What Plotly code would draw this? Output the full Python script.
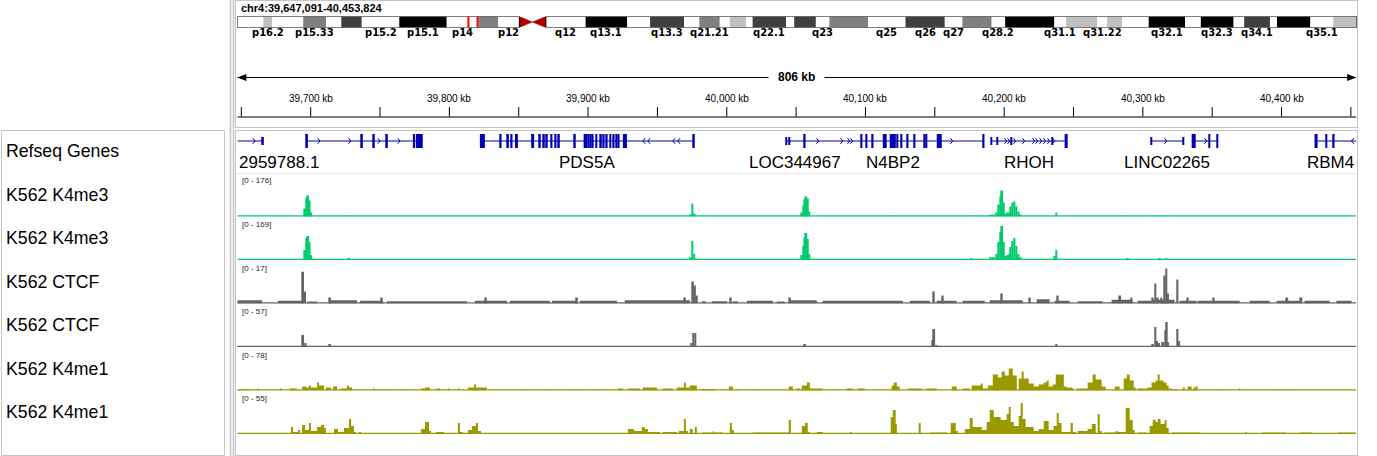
import plotly.graph_objects as go

W, H = 1377, 456
FONT = "Liberation Sans, Arial, sans-serif"

# ---------------- view / locus ----------------
CHROM = "chr4"
VIEW_START = 39647091
VIEW_END = 40453824
CHROM_LEN_MB = 191.154

# ---------------- cytobands (Mb) ----------------
band_start_mb = [0.0, 4.5, 6.0, 11.3, 15.2, 17.8, 21.3, 27.7, 35.8, 41.2, 44.6, 48.2, 50.4, 52.7,
                 59.5, 66.6, 70.5, 76.3, 78.9, 82.4, 84.1, 86.9, 88.0, 93.7, 95.1, 98.8, 101.1,
                 107.7, 114.1, 120.8, 123.8, 128.8, 131.1, 139.5, 141.5, 146.8, 148.5, 151.1,
                 155.6, 161.8, 164.5, 170.1, 171.9, 176.3, 177.5, 183.2, 187.1]
band_name = ["p16.3", "p16.2", "p16.1", "p15.33", "p15.32", "p15.31", "p15.2", "p15.1", "p14", "p13",
             "p12", "p11", "q11", "q12", "q13.1", "q13.2", "q13.3", "q21.1", "q21.21", "q21.22",
             "q21.23", "q21.3", "q22.1", "q22.2", "q22.3", "q23", "q24", "q25", "q26", "q27",
             "q28.1", "q28.2", "q28.3", "q31.1", "q31.21", "q31.22", "q31.23", "q31.3", "q32.1",
             "q32.2", "q32.3", "q33", "q34.1", "q34.2", "q34.3", "q35.1", "q35.2"]
band_stain = ["gneg", "gpos25", "gneg", "gpos50", "gneg", "gpos75", "gneg", "gpos100", "gneg", "gpos50",
              "gneg", "acen", "acen", "gneg", "gpos100", "gneg", "gpos75", "gneg", "gpos50", "gneg",
              "gpos25", "gneg", "gpos75", "gneg", "gpos75", "gneg", "gpos50", "gneg", "gpos75", "gneg",
              "gpos50", "gneg", "gpos100", "gneg", "gpos25", "gneg", "gpos25", "gneg", "gpos100",
              "gneg", "gpos100", "gneg", "gpos75", "gneg", "gpos100", "gneg", "gpos25"]
labeled_bands = ["p16.2", "p15.33", "p15.2", "p15.1", "p14", "p12", "q12", "q13.1", "q13.3", "q21.21",
                 "q22.1", "q23", "q25", "q26", "q27", "q28.2", "q31.1", "q31.22", "q32.1", "q32.3",
                 "q34.1", "q35.1"]

# ---------------- ruler ----------------
minor_tick_kb = [39650, 39700, 39750, 39800, 39850, 39900, 39950, 40000, 40050, 40100, 40150,
                 40200, 40250, 40300, 40350, 40400, 40450]
label_tick_kb = [39700, 39800, 39900, 40000, 40100, 40200, 40300, 40400]

# ---------------- RefSeq genes (kb) ----------------
intron_start_kb = [39647.1, 39697.4, 39822.0, 40043.3, 40191.0, 40306.3, 40335.2, 40423.8]
intron_end_kb = [39665.7, 39781.0, 39977.0, 40185.3, 40245.8, 40329.4, 40353.9, 40453.8]
exon_start_kb = [39696.8, 39736.4, 39745.0, 39754.4, 39773.7, 39775.8,
                 39822.0, 39836.4, 39841.5, 39844.3, 39847.3, 39859.0, 39864.7, 39867.6, 39869.7,
                 39873.1, 39876.0, 39878.4, 39889.9, 39896.8, 39899.8, 39901.4, 39903.0, 39905.6,
                 39908.5, 39910.9, 39913.1, 39915.7, 39918.1, 39920.0, 39921.7, 39925.1, 39975.7,
                 40055.8, 40096.8, 40100.4, 40104.8, 40112.5, 40117.5, 40122.6, 40125.6, 40130.0,
                 40135.0, 40142.2, 40143.8, 40151.4, 40184.6,
                 40243.6, 40335.2, 40347.6, 40353.4, 40423.8, 40432.0, 40436.8]
exon_end_kb = [39698.0, 39737.6, 39746.2, 39755.6, 39775.2, 39780.8,
               39825.6, 39837.6, 39842.9, 39845.5, 39849.4, 39861.1, 39865.9, 39868.8, 39870.9,
               39874.3, 39877.2, 39879.6, 39891.1, 39899.4, 39900.8, 39902.4, 39904.0, 39906.6,
               39909.9, 39911.9, 39914.1, 39916.7, 39919.1, 39921.0, 39922.7, 39928.0, 39976.9,
               40056.8, 40097.8, 40101.4, 40105.8, 40115.3, 40121.9, 40123.6, 40126.6, 40131.0,
               40136.0, 40143.2, 40144.6, 40155.0, 40185.8,
               40245.8, 40338.1, 40348.6, 40354.4, 40426.0, 40433.0, 40438.2]
utr_start_kb = [39665.0, 40042.8, 40044.7, 40190.6, 40194.9, 40205.0, 40234.6, 40305.9, 40329.0]
utr_end_kb = [39666.2, 40043.6, 40045.5, 40191.4, 40195.7, 40205.8, 40235.4, 40306.7, 40329.8]
strand_arrow_kb = [39659.9, 39706.7, 39728.9, 39750.0, 39764.4,
                   39939.5, 39943.1, 39961.1, 39964.7,
                   40066.3, 40083.6, 40088.7, 40090.8, 40162.9,
                   40201.8, 40204.0, 40208.3, 40214.8, 40222.0, 40224.2, 40227.1, 40229.9,
                   40232.8, 40236.4, 40317.2, 40346.0, 40450.5]
strand_arrow_dir = [1, 1, 1, 1, 1,
                    -1, -1, -1, -1,
                    1, 1, 1, 1, 1,
                    1, 1, 1, 1, 1, 1, 1, 1,
                    1, 1, 1, 1, -1]
gene_label = ["2959788.1", "PDS5A", "LOC344967", "N4BP2", "RHOH", "LINC02265", "RBM4"]
gene_label_kb = [39647.1, 39899.1, 40049.1, 40119.7, 40217.7, 40317.2, 40453.8]
gene_label_anchor = ["left", "center", "center", "center", "center", "center", "right"]

# ---------------- data tracks ----------------
track_names = ["K562 K4me3", "K562 K4me3", "K562 CTCF", "K562 CTCF", "K562 K4me1", "K562 K4me1"]
track_max = [176, 169, 17, 57, 78, 55]

# H3K4me3 (bin center kb, value)
k4me3_a_kb = [39695.9, 39697.0, 39698.1, 39699.2, 39700.2, 39727.6, 39973.7, 39975.2, 39976.6,
              40054.1, 40055.2, 40056.3, 40057.3, 40058.4, 40059.5, 40121.1, 40176.6, 40190.3,
              40192.5, 40194.6, 40196.1, 40197.3, 40198.5, 40199.7, 40201.1, 40202.6, 40204.0,
              40204.7, 40205.9, 40207.4, 40208.8, 40210.3, 40211.7, 40237.6, 40289.1, 40312.1,
              40316.9]
k4me3_a_val = [33, 78, 86, 65, 16, 4, 8, 53, 12,
               16, 45, 70, 82, 74, 20, 4, 4, 8,
               8, 16, 49, 82, 106, 57, 12, 16, 16,
               41, 57, 61, 41, 20, 8, 16, 4, 4,
               4]
k4me3_b_kb = [39695.9, 39697.0, 39698.1, 39699.2, 39700.2, 39727.6, 39973.7, 39975.2, 39976.6,
              40054.1, 40055.2, 40056.3, 40057.3, 40058.4, 40059.5, 40176.6, 40190.3,
              40192.5, 40194.6, 40196.1, 40197.3, 40198.5, 40199.7, 40201.1, 40202.6, 40204.0,
              40204.7, 40205.9, 40207.4, 40208.8, 40210.3, 40211.7, 40236.4, 40237.6, 40289.1,
              40312.1, 40316.9]
k4me3_b_val = [39, 86, 94, 71, 20, 8, 12, 75, 24,
               20, 55, 86, 106, 83, 24, 8, 12,
               12, 24, 71, 110, 134, 71, 16, 20, 24,
               51, 75, 86, 55, 24, 12, 16, 39, 4,
               8, 8]

# CTCF background (start kb, end kb, value) and peaks (center kb, value)
ctcf_a_background = [
    (39647.1, 39664.9, 1.3), (39676.4, 39693.8, 1.1), (39697.4, 39704.6, 0.8), (39713.2, 39733.4, 1.3),
    (39735.6, 39752.1, 1.1), (39755.0, 39812.7, 0.9), (39818.4, 39841.5, 1.1), (39843.7, 39872.5, 1.1),
    (39874.0, 39892.0, 1.1), (39894.1, 39920.8, 1.1), (39926.5, 39973.4, 1.3), (39982.0, 39984.9, 0.9),
    (39989.2, 40000.1, 0.9), (40004.4, 40008.0, 0.9), (40014.5, 40033.2, 1.1), (40036.1, 40041.8, 0.8),
    (40045.5, 40064.9, 1.3), (40069.2, 40126.9, 1.1), (40131.9, 40146.3, 1.1), (40151.4, 40165.8, 1.1),
    (40170.1, 40186.0, 1.1), (40189.6, 40213.4, 1.3), (40223.5, 40232.8, 1.7), (40236.4, 40247.2, 1.1),
    (40253.0, 40271.0, 0.9), (40277.5, 40292.7, 1.5), (40296.2, 40306.3, 1.1), (40307.1, 40322.9, 1.5),
    (40326.5, 40338.8, 1.1), (40339.5, 40369.8, 1.1), (40377.0, 40391.4, 1.1), (40396.4, 40413.0, 1.1),
    (40416.6, 40434.6, 1.1), (40439.6, 40450.5, 1.1)]
ctcf_a_peak_kb = [39694.5, 39695.9, 39713.9, 39751.2, 39826.3, 39891.9, 39969.8, 39975.5, 39977.0,
                  39978.4, 40002.9, 40045.5, 40149.2, 40155.7, 40198.2, 40218.4, 40238.6, 40283.6,
                  40291.7, 40307.1, 40309.0, 40310.7, 40313.3, 40315.7, 40316.9, 40318.1, 40324.9,
                  40332.3, 40351.0, 40404.1, 40414.2]
ctcf_a_peak_val = [12.6, 4.7, 2.4, 2.4, 2.4, 2.4, 2.4, 8.7, 7.1,
                   3.2, 2.4, 2.4, 4.7, 3.2, 4.0, 2.4, 3.2, 3.2,
                   2.4, 2.4, 7.9, 2.4, 2.4, 11.1, 13.8, 4.0, 9.5,
                   2.4, 2.4, 2.4, 2.4]
ctcf_b_background = [
    (39647.1, 39664.9, 1.0), (39677.9, 39693.8, 1.0), (39713.9, 39735.6, 1.0), (39742.8, 39760.8, 1.0),
    (39778.8, 39814.8, 1.0), (39822.0, 39858.1, 1.0), (39868.9, 39908.5, 1.0), (39915.7, 39973.4, 1.0),
    (39980.6, 39995.0, 1.0), (40002.2, 40023.8, 1.0), (40045.5, 40067.1, 1.0), (40074.3, 40124.7, 1.0),
    (40131.9, 40196.8, 1.0), (40204.0, 40268.9, 1.0), (40283.3, 40304.9, 1.0), (40326.5, 40384.2, 1.0),
    (40398.6, 40453.3, 1.0)]
ctcf_b_peak_kb = [39694.5, 39696.3, 39713.9, 39974.6, 39975.9, 39977.3, 40056.3, 40148.3, 40149.5,
                  40151.2, 40237.6, 40307.1, 40309.0, 40310.2, 40311.6, 40314.5, 40316.2, 40317.2,
                  40318.1, 40324.9, 40326.1]
ctcf_b_peak_val = [16, 5.3, 4, 5.3, 18.6, 18.6, 4, 9.3, 24,
                   2.7, 4, 4, 26.5, 8, 5.3, 6.6, 22.5, 33,
                   6.6, 24, 8]

# H3K4me1 (start kb, end kb, value)
k4me1_a_segments = [
    (39647.1, 39656.3, 1.8), (39661.3, 39662.3, 3.6), (39677.9, 39679.3, 3.6), (39685.1, 39690.1, 3.6),
    (39693.8, 39695.9, 7.3), (39696.6, 39698.8, 5.4), (39698.8, 39700.2, 9.1), (39700.2, 39704.6, 5.4),
    (39704.6, 39706.0, 14.5), (39706.0, 39709.6, 9.1), (39711.0, 39714.6, 5.4), (39716.1, 39719.0, 7.3),
    (39721.9, 39725.4, 3.6), (39726.2, 39727.6, 9.1), (39727.6, 39729.8, 5.4), (39744.9, 39745.9, 3.6),
    (39752.4, 39753.4, 1.8), (39764.4, 39765.4, 1.8), (39779.5, 39781.7, 3.6), (39782.4, 39786.0, 5.4),
    (39791.0, 39793.2, 3.6), (39799.0, 39800.0, 3.6), (39806.2, 39807.2, 3.6), (39813.4, 39817.0, 5.4),
    (39817.7, 39819.2, 10.9), (39819.2, 39827.1, 5.4), (39854.5, 39855.5, 1.8), (39872.5, 39873.5, 1.8),
    (39889.0, 39890.0, 1.8), (39896.3, 39897.3, 1.8), (39904.9, 39905.9, 1.8), (39913.6, 39914.6, 1.8),
    (39921.5, 39925.1, 3.6), (39928.7, 39937.3, 3.6), (39939.5, 39949.6, 5.4), (39953.9, 39961.1, 3.6),
    (39964.0, 39969.1, 5.4), (39969.1, 39970.5, 14.5), (39970.5, 39973.4, 5.4), (39973.4, 39978.4, 9.1),
    (39982.0, 39991.4, 2.7), (40001.5, 40004.4, 7.3), (40007.3, 40009.4, 1.8), (40020.0, 40021.0, 1.8),
    (40044.7, 40047.6, 7.3), (40050.5, 40052.7, 3.6), (40054.1, 40057.0, 9.1), (40057.7, 40059.2, 14.5),
    (40059.9, 40069.2, 3.6), (40077.9, 40078.9, 1.8), (40086.5, 40090.9, 3.6), (40094.5, 40099.5, 3.6),
    (40118.9, 40120.4, 9.1), (40120.4, 40121.8, 14.5), (40122.6, 40124.7, 7.3), (40130.5, 40140.6, 3.6),
    (40144.2, 40151.4, 3.6), (40162.2, 40165.8, 7.3), (40170.1, 40175.2, 3.6), (40176.6, 40182.4, 9.1),
    (40183.1, 40184.6, 12.7), (40184.6, 40188.2, 3.6), (40188.2, 40191.0, 9.1), (40191.8, 40194.6, 29.0),
    (40195.4, 40198.2, 23.6), (40198.2, 40199.7, 34.5), (40200.4, 40202.6, 27.2), (40203.3, 40205.4, 39.9),
    (40206.2, 40209.1, 27.2), (40210.5, 40211.9, 21.8), (40212.7, 40214.1, 34.5), (40214.1, 40217.0, 21.8),
    (40217.7, 40220.6, 12.7), (40221.3, 40224.2, 7.3), (40224.9, 40227.8, 10.9), (40228.5, 40230.0, 14.5),
    (40230.7, 40232.1, 18.1), (40232.1, 40234.3, 7.3), (40235.0, 40237.2, 10.9), (40237.2, 40240.8, 29.0),
    (40241.4, 40243.0, 29.0), (40243.0, 40244.4, 7.3), (40245.1, 40249.5, 5.4), (40252.3, 40259.5, 3.6),
    (40260.2, 40263.2, 14.5), (40263.8, 40265.3, 29.0), (40266.0, 40270.3, 20.0), (40270.3, 40273.2, 7.3),
    (40279.7, 40283.3, 7.3), (40286.2, 40288.4, 21.8), (40288.4, 40289.8, 29.0), (40290.5, 40293.4, 18.1),
    (40293.4, 40294.8, 5.4), (40296.2, 40302.7, 3.6), (40303.4, 40306.3, 5.4), (40306.3, 40309.2, 14.5),
    (40309.2, 40310.7, 18.1), (40310.7, 40312.1, 29.0), (40312.1, 40315.0, 18.1), (40315.0, 40317.1, 14.5),
    (40317.1, 40318.6, 9.1), (40318.6, 40320.0, 3.6), (40320.8, 40325.1, 1.8), (40328.7, 40330.2, 5.4),
    (40332.3, 40335.2, 7.3), (40336.6, 40338.1, 5.4), (40338.1, 40339.5, 7.3), (40353.6, 40354.6, 1.8),
    (40369.3, 40370.3, 3.6), (40393.1, 40394.1, 1.8), (40403.9, 40404.9, 1.8)]
k4me1_b_segments = [
    (39647.1, 39670.7, 1.3), (39675.7, 39685.1, 1.3), (39685.8, 39687.3, 9.0), (39687.3, 39690.1, 2.6),
    (39690.9, 39692.3, 5.1), (39693.8, 39695.2, 11.5), (39695.9, 39698.1, 5.1), (39698.8, 39700.2, 14.1),
    (39700.2, 39703.9, 3.8), (39704.6, 39706.7, 9.0), (39707.4, 39709.6, 11.5), (39709.6, 39711.0, 7.7),
    (39711.0, 39716.1, 1.3), (39716.8, 39719.7, 6.4), (39719.7, 39723.3, 2.6), (39724.0, 39726.9, 7.7),
    (39727.6, 39729.1, 19.2), (39729.1, 39731.2, 10.2), (39731.2, 39732.6, 2.6), (39734.8, 39736.3, 2.6),
    (39754.3, 39755.3, 1.3), (39779.5, 39781.7, 6.4), (39782.4, 39785.3, 15.3), (39785.3, 39786.7, 3.8),
    (39790.3, 39796.1, 2.6), (39797.5, 39801.1, 1.3), (39806.2, 39807.6, 14.1), (39807.6, 39809.8, 2.6),
    (39813.4, 39816.3, 5.1), (39816.3, 39819.2, 10.2), (39819.2, 39820.6, 14.1), (39820.6, 39822.8, 3.8),
    (39854.5, 39855.5, 1.3), (39865.3, 39866.3, 1.3), (39901.3, 39902.3, 1.3), (39908.5, 39917.9, 1.3),
    (39928.7, 39933.0, 6.4), (39933.0, 39938.0, 3.8), (39938.8, 39940.9, 9.0), (39940.9, 39943.1, 6.4),
    (39943.1, 39951.8, 2.6), (39953.9, 39964.0, 2.6), (39965.4, 39968.3, 3.8), (39969.1, 39970.5, 19.2),
    (39970.5, 39971.9, 3.8), (39973.4, 39975.5, 6.4), (39977.0, 39978.4, 9.0), (39982.7, 39989.9, 1.9),
    (39989.9, 39990.6, 3.8), (39990.6, 39997.2, 1.9), (40002.2, 40003.7, 14.1), (40003.7, 40005.1, 5.1),
    (40018.8, 40044.0, 1.9),
    (40044.7, 40046.2, 17.9), (40054.1, 40055.5, 10.2), (40056.3, 40058.4, 14.1), (40058.4, 40059.9, 2.6),
    (40064.9, 40069.2, 2.6), (40089.0, 40090.0, 2.6), (40095.9, 40117.5, 1.3), (40118.2, 40119.7, 21.7),
    (40119.7, 40121.8, 30.7), (40121.8, 40122.6, 12.8), (40131.9, 40137.0, 1.3), (40138.4, 40139.8, 14.1),
    (40146.3, 40158.6, 1.9), (40161.5, 40165.1, 14.1), (40165.1, 40166.6, 3.8), (40171.6, 40174.5, 6.4),
    (40175.2, 40177.3, 20.5), (40177.3, 40183.8, 9.0), (40183.8, 40187.4, 5.1), (40187.4, 40189.6, 15.3),
    (40189.6, 40192.5, 30.7), (40192.5, 40197.5, 21.7), (40197.5, 40201.8, 17.9), (40201.8, 40203.3, 25.6),
    (40203.3, 40204.7, 34.5), (40204.7, 40206.9, 15.3), (40206.9, 40210.5, 10.2), (40210.5, 40211.9, 23.0),
    (40211.9, 40213.4, 39.7), (40213.4, 40215.5, 19.2), (40215.5, 40221.3, 9.0), (40221.3, 40224.2, 3.8),
    (40224.9, 40228.5, 6.4), (40228.5, 40232.1, 16.6), (40232.1, 40235.0, 5.1), (40235.7, 40237.9, 10.2),
    (40237.9, 40239.3, 26.9), (40239.3, 40241.4, 14.1), (40241.4, 40247.2, 2.6), (40247.9, 40249.5, 14.1),
    (40249.5, 40251.6, 2.6), (40253.0, 40260.2, 3.8), (40260.2, 40263.2, 6.4), (40263.2, 40266.0, 12.8),
    (40267.4, 40268.9, 25.6), (40268.9, 40270.3, 3.8), (40272.5, 40279.7, 1.9), (40280.4, 40281.1, 3.8),
    (40281.9, 40286.9, 2.6), (40287.6, 40290.5, 33.3), (40290.5, 40292.7, 17.9), (40292.7, 40294.1, 5.1),
    (40296.2, 40302.7, 1.9), (40304.9, 40307.1, 10.2), (40307.1, 40308.5, 17.9), (40309.2, 40310.7, 15.3),
    (40310.7, 40312.8, 19.2), (40312.8, 40315.0, 12.8), (40315.7, 40317.1, 17.9), (40317.1, 40318.6, 7.7),
    (40320.8, 40340.9, 1.9), (40352.5, 40357.5, 1.3), (40374.0, 40375.0, 2.6), (40386.3, 40403.4, 1.9),
    (40413.0, 40422.4, 1.9), (40440.4, 40453.3, 1.9)]

# ---------------- styling ----------------
GREEN = "rgb(0,204,110)"
GRAY = "rgb(100,100,100)"
OLIVE = "rgb(153,153,0)"
BLUE = "rgb(0,0,178)"
BORDER = "rgb(196,196,196)"
track_colors = [GREEN, GREEN, GRAY, GRAY, OLIVE, OLIVE]
STAIN_COLOR = {"gneg": "white", "gpos25": "rgb(192,192,192)", "gpos50": "rgb(128,128,128)",
               "gpos75": "rgb(64,64,64)", "gpos100": "black"}

DATA_X0, DATA_X1 = 237.3, 1356.2         # pixel extent of the genomic axis
IDEO_X0, IDEO_X1 = 237.0, 1357.0
track_base_px = [216.5, 260.0, 303.5, 347.0, 390.5, 434.0]
TRACK_H = 43.0
name_y_px = [151, 194.5, 238, 281.5, 325, 368.5, 411.5]
GAP_MERGE_KB = 1.0   # step-fill: gaps narrower than this are drawn closed


def fx(p):
    return p / W


def fy(p):
    return 1 - p / H


fig = go.Figure()
layout = dict(
    width=W, height=H, margin=dict(l=0, r=0, t=0, b=0, pad=0), autosize=False,
    paper_bgcolor="white", plot_bgcolor="white", showlegend=False, hovermode=False,
    barmode="overlay", font=dict(family=FONT, color="black"),
)
layout["xaxis"] = dict(domain=[fx(DATA_X0), fx(DATA_X1)], range=[VIEW_START, VIEW_END],
                       visible=False, fixedrange=True, anchor="y")
layout["xaxis2"] = dict(domain=[fx(IDEO_X0), fx(IDEO_X1)], range=[0, CHROM_LEN_MB],
                        visible=False, fixedrange=True, anchor="y8")

# track y axes (y .. y6)
for i, b in enumerate(track_base_px):
    key = "yaxis" if i == 0 else f"yaxis{i + 1}"
    layout[key] = dict(domain=[fy(b), fy(b - TRACK_H)], range=[0, track_max[i]],
                       visible=False, fixedrange=True, anchor="x")
# gene track axis (y7): 0 at pixel 141
layout["yaxis7"] = dict(domain=[fy(155), fy(127)], range=[-14, 14], visible=False,
                        fixedrange=True, anchor="x")
# ideogram axis (y8)
layout["yaxis8"] = dict(domain=[fy(27.5), fy(16.5)], range=[0, 1], visible=False,
                        fixedrange=True, anchor="x2")

shapes = []
annotations = []

# ---------- panels / borders ----------
shapes.append(dict(type="rect", xref="paper", yref="paper", x0=fx(235.5), x1=fx(1357.5),
                   y0=fy(127.5), y1=fy(0.5), line=dict(color=BORDER, width=1)))
shapes.append(dict(type="rect", xref="paper", yref="paper", x0=fx(235.5), x1=fx(1357.5),
                   y0=fy(455.5), y1=fy(130.5), line=dict(color=BORDER, width=1)))
shapes.append(dict(type="rect", xref="paper", yref="paper", x0=fx(1.5), x1=fx(224.5),
                   y0=fy(455.5), y1=fy(130.5), line=dict(color=BORDER, width=1)))
for xv in (230.5, 233.5):
    shapes.append(dict(type="line", xref="paper", yref="paper", x0=fx(xv), x1=fx(xv),
                       y0=0, y1=1, line=dict(color=BORDER, width=1.5)))
shapes.append(dict(type="line", xref="paper", yref="paper", x0=fx(236), x1=fx(1356.5),
                   y0=fy(173.5), y1=fy(173.5), line=dict(color="rgb(232,232,232)", width=1)))

# ---------- ideogram ----------
bx, bw, bc = [], [], []
acen = []
for i, s in enumerate(band_start_mb):
    e = band_start_mb[i + 1] if i + 1 < len(band_start_mb) else CHROM_LEN_MB
    if band_stain[i] == "acen":
        acen.append((s, e, band_name[i]))
        continue
    bx.append((s + e) / 2)
    bw.append(e - s)
    bc.append(STAIN_COLOR[band_stain[i]])
fig.add_trace(go.Bar(x=bx, y=[1] * len(bx), base=0, width=bw, xaxis="x2", yaxis="y8",
                     marker=dict(color=bc, line=dict(width=0))))
cen_color = "rgb(175,0,0)"
p_end = acen[0][0]
q_start = acen[-1][1]
for s, e, nm in acen:
    if nm.startswith("p"):
        tx, ty = [s, s, e, s], [0, 1, 0.5, 0]
    else:
        tx, ty = [e, e, s, e], [0, 1, 0.5, 0]
    fig.add_trace(go.Scatter(x=tx, y=ty, xaxis="x2", yaxis="y8", mode="lines", fill="toself",
                             fillcolor=cen_color, line=dict(color=cen_color, width=0.5)))
shapes.append(dict(type="rect", xref="x2", yref="y8", x0=0, x1=p_end, y0=0, y1=1,
                   line=dict(color="black", width=1)))
shapes.append(dict(type="rect", xref="x2", yref="y8", x0=q_start, x1=CHROM_LEN_MB, y0=0, y1=1,
                   line=dict(color="black", width=1)))
# current-view marker
BOX_PAD_L, BOX_MIN_W = 0.15, 1.55
vs_mb = VIEW_START / 1e6
shapes.append(dict(type="rect", xref="x2", yref="y8", x0=vs_mb - BOX_PAD_L,
                   x1=max(VIEW_END / 1e6, vs_mb - BOX_PAD_L + BOX_MIN_W), y0=-0.15, y1=1.15,
                   line=dict(color="rgb(255,0,0)", width=2)))
for i, nm in enumerate(band_name):
    if nm in labeled_bands:
        s = band_start_mb[i]
        e = band_start_mb[i + 1] if i + 1 < len(band_start_mb) else CHROM_LEN_MB
        annotations.append(dict(x=(s + e) / 2, y=fy(32.5), xref="x2", yref="paper", text=nm,
                                showarrow=False, xanchor="center", yanchor="middle",
                                font=dict(size=10, family="DejaVu Sans", color="black", weight="bold")))

# ---------- locus title + ruler ----------
annotations.append(dict(x=fx(239), y=fy(8), xref="paper", yref="paper",
                        text=f"<b>{CHROM}:{VIEW_START:,}-{VIEW_END:,}</b>", showarrow=False,
                        xanchor="left", yanchor="middle", font=dict(size=11, color="black")))
RULER_Y = 77.5
shapes.append(dict(type="line", xref="x", yref="paper", x0=VIEW_START, x1=VIEW_END,
                   y0=fy(RULER_Y), y1=fy(RULER_Y), line=dict(color="black", width=1)))
AH_W, AH_H = 6500, 3.5
shapes.append(dict(type="path", xref="x", yref="paper", fillcolor="black", line=dict(width=0),
                   path=f"M {VIEW_START},{fy(RULER_Y)} L {VIEW_START + AH_W},{fy(RULER_Y - AH_H)} "
                        f"L {VIEW_START + AH_W},{fy(RULER_Y + AH_H)} Z"))
shapes.append(dict(type="path", xref="x", yref="paper", fillcolor="black", line=dict(width=0),
                   path=f"M {VIEW_END},{fy(RULER_Y)} L {VIEW_END - AH_W},{fy(RULER_Y - AH_H)} "
                        f"L {VIEW_END - AH_W},{fy(RULER_Y + AH_H)} Z"))
span_kb = int((VIEW_END - VIEW_START) / 1000)
annotations.append(dict(x=(VIEW_START + VIEW_END) / 2, y=fy(RULER_Y), xref="x", yref="paper",
                        text=f"<b>{span_kb} kb</b>", showarrow=False, bgcolor="white", borderpad=9,
                        xanchor="center", yanchor="middle", font=dict(size=12, color="black")))
for kb in minor_tick_kb:
    shapes.append(dict(type="line", xref="x", yref="paper", x0=kb * 1000, x1=kb * 1000,
                       y0=fy(116.5), y1=fy(107), line=dict(color="black", width=1)))
for kb in label_tick_kb:
    annotations.append(dict(x=kb * 1000, y=fy(98.5), xref="x", yref="paper", text=f"{kb:,} kb",
                            showarrow=False, xanchor="center", yanchor="middle",
                            font=dict(size=10, color="black")))
shapes.append(dict(type="line", xref="x", yref="paper", x0=VIEW_START, x1=VIEW_END,
                   y0=fy(117), y1=fy(117), line=dict(color="black", width=1)))

# ---------- gene track ----------
lx, ly = [], []
for s, e in zip(intron_start_kb, intron_end_kb):
    lx += [s * 1000, e * 1000, None]
    ly += [0, 0, None]
fig.add_trace(go.Scatter(x=lx, y=ly, xaxis="x", yaxis="y7", mode="lines",
                         line=dict(color=BLUE, width=1)))
ARROW_DX, ARROW_DY = 1600, 2.8
ax_, ay_ = [], []
for a, d in zip(strand_arrow_kb, strand_arrow_dir):
    c = a * 1000
    ax_ += [c - d * ARROW_DX, c, c - d * ARROW_DX, None]
    ay_ += [ARROW_DY, 0, -ARROW_DY, None]
fig.add_trace(go.Scatter(x=ax_, y=ay_, xaxis="x", yaxis="y7", mode="lines",
                         line=dict(color=BLUE, width=1)))
fig.add_trace(go.Bar(x=[(s + e) / 2 * 1000 for s, e in zip(exon_start_kb, exon_end_kb)],
                     width=[(e - s) * 1000 for s, e in zip(exon_start_kb, exon_end_kb)],
                     y=[14] * len(exon_start_kb), base=-7, xaxis="x", yaxis="y7",
                     marker=dict(color=BLUE, line=dict(width=0))))
fig.add_trace(go.Bar(x=[(s + e) / 2 * 1000 for s, e in zip(utr_start_kb, utr_end_kb)],
                     width=[(e - s) * 1000 for s, e in zip(utr_start_kb, utr_end_kb)],
                     y=[8] * len(utr_start_kb), base=-4, xaxis="x", yaxis="y7",
                     marker=dict(color=BLUE, line=dict(width=0))))
for nm, kb, anc in zip(gene_label, gene_label_kb, gene_label_anchor):
    annotations.append(dict(x=kb * 1000, y=fy(163), xref="x", yref="paper", text=nm,
                            showarrow=False, xanchor=anc, yanchor="middle",
                            font=dict(size=17, color="black")))

# ---------- signal tracks ----------
PEAK_W = 1400


def add_points(kb_list, vals, color, yax):
    fig.add_trace(go.Bar(x=[k * 1000 for k in kb_list], y=vals, width=[PEAK_W] * len(vals),
                         base=0, xaxis="x", yaxis=yax, marker=dict(color=color, line=dict(width=0))))


def add_segments(segs, color, yax):
    fig.add_trace(go.Bar(x=[(s + e) / 2 * 1000 for s, e, v in segs],
                         width=[(e - s) * 1000 for s, e, v in segs],
                         y=[v for s, e, v in segs], base=0, xaxis="x", yaxis=yax,
                         marker=dict(color=color, line=dict(width=0))))


def add_step_fill(segs, color, yax):
    xs, ys = [segs[0][0] * 1000], [0]
    for i, (s, e, v) in enumerate(segs):
        xs.append(s * 1000)
        ys.append(v)
        nxt = segs[i + 1][0] if i + 1 < len(segs) else None
        if nxt is None or nxt - e > GAP_MERGE_KB:
            xs.append(e * 1000)
            ys.append(0)
    fig.add_trace(go.Scatter(x=xs, y=ys, xaxis="x", yaxis=yax, mode="lines",
                             line=dict(shape="hv", width=0, color=color),
                             fill="tozeroy", fillcolor=color))


add_points(k4me3_a_kb, k4me3_a_val, GREEN, "y")
add_points(k4me3_b_kb, k4me3_b_val, GREEN, "y2")
add_segments(ctcf_a_background, GRAY, "y3")
add_points(ctcf_a_peak_kb, ctcf_a_peak_val, GRAY, "y3")
add_segments(ctcf_b_background, GRAY, "y4")
add_points(ctcf_b_peak_kb, ctcf_b_peak_val, GRAY, "y4")
add_step_fill(k4me1_a_segments, OLIVE, "y5")
add_step_fill(k4me1_b_segments, OLIVE, "y6")

for i, b in enumerate(track_base_px):
    # baseline drawn just inside the track bottom so it is not clipped
    shapes.append(dict(type="line", xref="x", yref="paper", x0=VIEW_START, x1=VIEW_END,
                       y0=fy(b - 0.6), y1=fy(b - 0.6),
                       line=dict(color=track_colors[i], width=1.3)))
    annotations.append(dict(x=fx(240), y=fy(b - TRACK_H + 7.5), xref="paper", yref="paper",
                            text=f"[0 - {track_max[i]}]", showarrow=False, xanchor="left",
                            yanchor="middle", font=dict(size=8, color="rgb(30,30,30)")))

# ---------- track names ----------
for nm, yp in zip(["Refseq Genes"] + track_names, name_y_px):
    annotations.append(dict(x=fx(4), y=fy(yp), xref="paper", yref="paper", text=nm,
                            showarrow=False, xanchor="left", yanchor="middle",
                            font=dict(size=17.7, color="black")))

layout["shapes"] = shapes
layout["annotations"] = annotations
fig.update_layout(**layout)
fig.write_html("out.html", config={"displayModeBar": False},
               post_script="document.body.style.margin='0px';document.body.style.padding='0px';")
